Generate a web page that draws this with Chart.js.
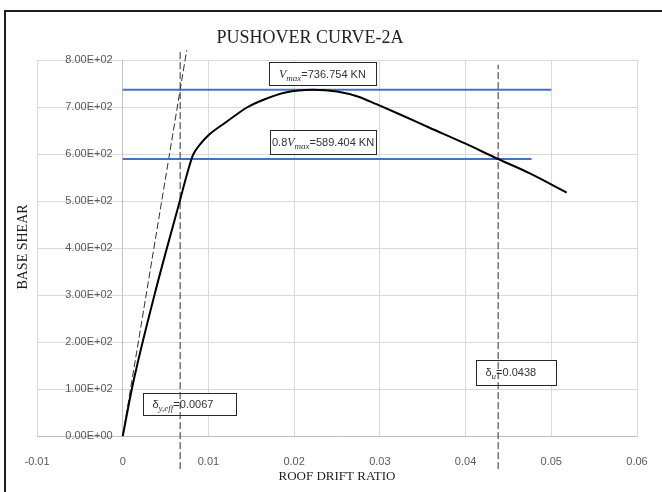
<!DOCTYPE html>
<html>
<head>
<meta charset="utf-8">
<title>Pushover curve 2A</title>
<script src="https://cdn.jsdelivr.net/npm/chart.js@4.4.1/dist/chart.umd.min.js"></script>
<style>
  html, body { margin: 0; padding: 0; background: #fff; overflow: hidden; }
  #wrap { position: relative; width: 662px; height: 492px; }
  #chart { position: absolute; left: 0; top: 0; }
  #frame { position: absolute; left: 4px; top: 10px; width: 700px; height: 600px; border: 2px solid #1e1e1e; pointer-events: none; }
</style>
</head>
<body>
<div id="wrap">
  <canvas id="chart" width="662" height="492"></canvas>
  <div id="frame"></div>
</div>
<script>
// pushover curve
const driftRatio = [0, 0.0012, 0.0037, 0.0067, 0.0075, 0.0082, 0.009, 0.01, 0.012,
  0.0145, 0.0165, 0.019, 0.0222, 0.025, 0.0275, 0.0296, 0.0325, 0.0358, 0.04, 0.0438, 0.0475, 0.0518];
const baseShear = [0, 112, 300, 503, 557, 598, 620, 640, 667,
  699, 716, 731, 736.754, 733, 722, 706, 683, 656, 622, 589.404, 559, 518];

const vMax = 736.754;
const vMax80 = 589.404;
const deltaYeff = 0.0067;
const deltaU = 0.0438;

// reference lines
const vMaxSpan = [0, 0.05];
const vMax80Span = [0, 0.0477];
const secantDrift = [0, 0.00747];
const secantShear = [0, 821];
const yEffSpan = [-70, 821];
const uSpan = [-70, 790];

const xMin = -0.01, xMax = 0.06, xStep = 0.01;
const yMin = 0, yMax = 800, yStep = 100;

const chartTitle = 'PUSHOVER CURVE-2A';
const xTitle = 'ROOF DRIFT RATIO';
const yTitle = 'BASE SHEAR';

const NUM_FONT = '"Liberation Sans Narrow", "Liberation Sans", Arial, sans-serif';
const SERIF = '"Liberation Serif", "Times New Roman", serif';

function sci(v) {
  const [m, e] = Number(v).toExponential(2).split('e');
  const n = Math.abs(+e);
  return m + 'E' + (+e < 0 ? '-' : '+') + String(n).padStart(2, '0');
}

function pts(xs, ys) {
  return xs.map((x, i) => ({ x, y: ys[i] }));
}

// annotation boxes (centre in data units, size in px)
const notes = [
  { x: 0.0233, y: 771, w: 107, h: 23, align: 'center',
    parts: [['V', 'v'], ['max', 's'], ['=736.754 KN', 'n']] },
  { x: 0.02337, y: 626, w: 106, h: 24, align: 'center',
    parts: [['0.8', 'n'], ['V', 'v'], ['max', 's'], ['=589.404 KN', 'n']] },
  { x: 0.04589, y: 135.5, w: 80, h: 25, align: 'left',
    parts: [['\u03b4', 'n'], ['u', 's'], ['=0.0438', 'n']] },
  { x: 0.00779, y: 68.3, w: 93, h: 22, align: 'left',
    parts: [['\u03b4', 'n'], ['y,eff', 's'], ['=0.0067', 'n']] },
];

const partFont = {
  n: '11px ' + NUM_FONT,
  v: 'italic 12px ' + SERIF,
  s: 'italic 9px ' + SERIF,
};

const notesPlugin = {
  id: 'notes',
  beforeDatasetsDraw(chart) {
    const { ctx, scales } = chart;
    ctx.save();

    // y tick labels sit left of the x=0 axis, like Excel
    const xAxis0 = scales.x.getPixelForValue(0) - 10;
    ctx.font = '11px ' + NUM_FONT;
    ctx.fillStyle = '#595959';
    ctx.textAlign = 'right';
    ctx.textBaseline = 'middle';
    for (const t of scales.y.ticks) {
      ctx.fillText(sci(t.value), xAxis0, scales.y.getPixelForValue(t.value));
    }

    for (const n of notes) {
      const cx = scales.x.getPixelForValue(n.x);
      const cy = scales.y.getPixelForValue(n.y);
      const left = Math.round(cx - n.w / 2) + 0.5;
      const top = Math.round(cy - n.h / 2) + 0.5;
      ctx.fillStyle = '#fff';
      ctx.fillRect(left, top, n.w, n.h);
      ctx.strokeStyle = '#262626';
      ctx.lineWidth = 1;
      ctx.strokeRect(left, top, n.w, n.h);

      let total = 0;
      for (const [t, k] of n.parts) {
        ctx.font = partFont[k];
        total += ctx.measureText(t).width;
      }
      let x = n.align === 'center' ? cx - total / 2 : left + 9;
      ctx.fillStyle = '#333';
      ctx.textBaseline = 'alphabetic';
      ctx.textAlign = 'left';
      const base = cy + 4;
      for (const [t, k] of n.parts) {
        ctx.font = partFont[k];
        ctx.fillText(t, x, k === 's' ? base + 3 : base);
        x += ctx.measureText(t).width;
      }
    }
    ctx.restore();
  },
  afterDraw(chart) {
    const { ctx } = chart;
    ctx.save();
    ctx.fillStyle = '#222';
    ctx.textAlign = 'center';
    ctx.textBaseline = 'middle';

    ctx.font = '18px ' + SERIF;
    ctx.fillText(chartTitle, 310, 38);

    ctx.translate(23, 247);
    ctx.rotate(-Math.PI / 2);
    ctx.font = '14px ' + SERIF;
    ctx.fillText(yTitle, 0, 0);
    ctx.restore();
  },
};

const dashed = { borderColor: '#303030', borderWidth: 1, borderDash: [7, 3], pointRadius: 0, clip: false, tension: 0 };

new Chart(document.getElementById('chart'), {
  type: 'line',
  data: {
    datasets: [
      { data: pts(driftRatio, baseShear), borderColor: '#000', borderWidth: 2, pointRadius: 0,
        cubicInterpolationMode: 'monotone', order: 0 },
      { data: pts(vMaxSpan, [vMax, vMax]), borderColor: '#4472c4', borderWidth: 2, pointRadius: 0, order: 1 },
      { data: pts(vMax80Span, [vMax80, vMax80]), borderColor: '#4472c4', borderWidth: 2, pointRadius: 0, order: 1 },
      { data: pts(secantDrift, secantShear), ...dashed, order: 2 },
      { data: pts([deltaYeff, deltaYeff], yEffSpan), ...dashed, order: 2 },
      { data: pts([deltaU, deltaU], uSpan), ...dashed, order: 2 },
    ],
  },
  options: {
    responsive: false,
    animation: false,
    layout: { padding: { left: 37, right: 25, top: 60, bottom: 0 } },
    plugins: {
      legend: { display: false },
      tooltip: { enabled: false },
      title: { display: false },
    },
    scales: {
      x: {
        type: 'linear',
        position: 'bottom',
        min: xMin,
        max: xMax,
        ticks: {
          stepSize: xStep,
          color: '#595959',
          font: { family: NUM_FONT, size: 11 },
          padding: 0,
          callback: (v) => String(Number(v.toFixed(2))),
        },
        grid: { color: '#d9d9d9', drawTicks: true, tickLength: 19, tickColor: 'rgba(0,0,0,0)' },
        border: { color: '#bfbfbf' },
        title: {
          display: true,
          text: xTitle,
          color: '#222',
          font: { family: SERIF, size: 13 },
          padding: { top: 0, bottom: 8 },
        },
      },
      y: {
        type: 'linear',
        position: { x: 0 },
        min: yMin,
        max: yMax,
        ticks: { stepSize: yStep, display: false },
        grid: { color: '#d9d9d9', drawTicks: false },
        border: { color: '#bfbfbf' },
      },
    },
  },
  plugins: [notesPlugin],
});
</script>
</body>
</html>
